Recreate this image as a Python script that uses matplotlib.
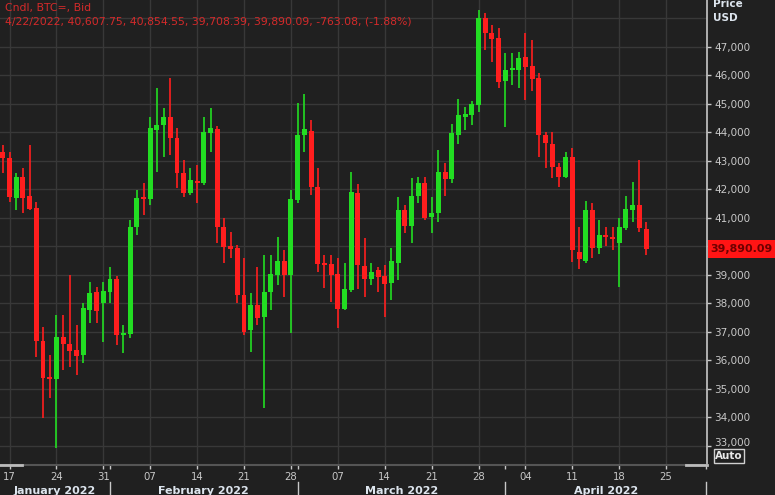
import matplotlib
matplotlib.use("Agg")
import matplotlib.pyplot as plt
import matplotlib.dates as mdates
import matplotlib.transforms as mtrans
from matplotlib.patches import Rectangle
import pandas as pd
import numpy as np

# ---------------- data ----------------
dates = pd.date_range("2022-01-16", "2022-04-22", freq="D")

opens = [43305, 43095, 41691, 42428, 41761, 41340, 36673, 35400, 35330, 36814,
         36568, 36357, 36182, 37761, 38393, 38007, 38393, 38849, 36884, 36919,
         40674, 41726, 41656, 44077, 44253, 44533, 43797, 42568, 41867, 42288,
         42218, 43972, 44112, 40674, 40007, 39937, 38287, 37059, 37937, 37516,
         38393, 38989, 39481, 38989, 41621, 43902, 44042, 42077, 39410, 39375,
         39024, 37796, 38463, 41867, 39305, 38849, 39165, 38954, 38709, 39410,
         41270, 40709, 41761, 42218, 41025, 41165, 42604, 42358, 43902, 44533,
         44604, 44955, 48007, 47481, 47305, 45797, 46183, 46183, 46639, 46323,
         45902, 43902, 43586, 42779, 42428, 43130, 39797, 39481, 41270, 39937,
         40393, 40323, 40112, 40639, 41270, 41446, 40607.75]

highs = [43551, 43305, 42568, 42744, 43551, 41551, 37165, 36182, 37586, 37586,
         38989, 37235, 38007, 38744, 38568, 38744, 39270, 38954, 37235, 40919,
         41972, 42218, 44533, 45551, 44849, 45902, 44147, 43025, 42744, 42849,
         44533, 44849, 44218, 40989, 40498, 40042, 39586, 38358, 39270, 39691,
         39691, 40323, 39867, 41972, 45025, 45341, 44428, 42744, 39691, 39691,
         39586, 39411, 42604, 42183, 40288, 39411, 39270, 39340, 39937, 41726,
         41446, 42393, 42428, 42428, 41726, 43375, 42919, 44288, 45165, 44884,
         45095, 48288, 48183, 47762, 47656, 46779, 46779, 46814, 47481, 47235,
         46077, 44007, 44007, 42919, 43305, 43446, 40674, 41586, 41516, 40919,
         40674, 40674, 40989, 41761, 42253, 43025, 40854.55]

lows = [42568, 41551, 41270, 41165, 41270, 36112, 33971, 34673, 32919, 35656,
        35761, 35480, 35901, 37305, 37305, 36638, 38007, 36533, 36252, 36779,
        40393, 41095, 41446, 42604, 43130, 43200, 42042, 41726, 41796, 41516,
        42147, 43305, 40112, 39410, 39586, 38007, 36884, 36287, 37235, 34322,
        37761, 38639, 38217, 36954, 41500, 43305, 41797, 39095, 38533, 38042,
        37130, 37761, 38393, 38498, 38217, 38639, 38393, 37516, 38112, 38814,
        40463, 40112, 41516, 40919, 40463, 40849, 41761, 42218, 43586, 44077,
        44253, 44709, 46884, 46463, 45551, 44183, 45656, 45551, 45130, 45446,
        43130, 42744, 42393, 42077, 42393, 39446, 39200, 39411, 39586, 39726,
        40007, 39867, 38568, 40568, 40849, 40498, 39708.39]

closes = [43095, 41726, 42428, 41691, 41305, 36673, 35375, 35330, 36814, 36568,
          36322, 36147, 37831, 38358, 37726, 38428, 38849, 36884, 36954, 40674,
          41691, 41656, 44147, 44253, 44533, 43797, 42568, 41867, 42323, 42218,
          44007, 44147, 40674, 39972, 39902, 38287, 36989, 37937, 37480, 38393,
          39024, 39481, 38989, 41656, 43902, 44112, 42077, 39375, 39340, 38989,
          37796, 38498, 41902, 39340, 38849, 39095, 38919, 38674, 39481, 41270,
          40709, 41761, 42218, 40989, 41165, 42604, 42358, 43972, 44604, 44639,
          44990, 48007, 47481, 47270, 45762, 46183, 46218, 46604, 46288, 45867,
          43902, 43621, 42779, 42428, 43130, 39867, 39551, 41270, 39937, 40393,
          40323, 40253, 40674, 41305, 41446, 40653.17, 39890.09]

ytick_values = list(range(33000, 48000, 1000))
grid_values = list(range(33000, 49000, 1000))
month_labels = ["January 2022", "February 2022", "March 2022", "April 2022"]
month_starts = ["2022-02-01", "2022-03-01", "2022-04-01"]
title_line1 = "Cndl, BTC=, Bid"
title_line2 = "4/22/2022, 40,607.75, 40,854.55, 39,708.39, 39,890.09, -763.08, (-1.88%)"
last_price_label = "39,890.09"

# ---------------- style ----------------
BG = "#202020"
GRID = "#383838"
GREEN = "#22dd22"
RED = "#ff1e1e"
TXT = "#c8c8c8"

W, H = 775, 495
fig = plt.figure(figsize=(W / 100, H / 100), dpi=100, facecolor=BG)
ax = fig.add_axes([0, 30 / H, 707 / W, 465 / H], facecolor=BG)

x = mdates.date2num(dates)
o = np.array(opens, float)
h = np.array(highs, float)
l = np.array(lows, float)
c = np.array(closes, float)
up = c >= o
cols = np.where(up, GREEN, RED)

ax.vlines(x, l, h, colors=cols, linewidth=1.2, zorder=3)
bottoms = np.minimum(o, c)
heights = np.maximum(np.abs(c - o), 55)
ax.bar(x, heights, bottom=bottoms, width=0.74, color=cols, linewidth=0, zorder=4)

x0 = mdates.date2num(pd.Timestamp("2022-01-16"))
ax.set_xlim(x0 - 0.42, x0 + 105.1)
ax.set_ylim(32323, 48639)

# grid
for gv in grid_values:
    ax.axhline(gv, color=GRID, lw=1, zorder=1)
ax.xaxis.set_major_locator(mdates.WeekdayLocator(byweekday=mdates.MO))
ax.xaxis.set_major_formatter(mdates.DateFormatter("%d"))
ax.xaxis.set_minor_locator(mdates.MonthLocator(bymonthday=1))
ax.grid(axis="x", which="major", color=GRID, lw=1, zorder=1)

# spines
for s in ["top", "left"]:
    ax.spines[s].set_visible(False)
ax.spines["right"].set_color("#c8c8c8")
ax.spines["right"].set_linewidth(1.2)
ax.spines["bottom"].set_color("#555555")
ax.spines["bottom"].set_linewidth(1.5)
ax.plot([0, 22 / 707], [0, 0], transform=ax.transAxes, color="#bbbbbb", lw=2, clip_on=False, zorder=6)
ax.plot([686 / 707, 1], [0, 0], transform=ax.transAxes, color="#bbbbbb", lw=2, clip_on=False, zorder=6)

# ticks
last = closes[-1]
ax.yaxis.tick_right()
ax.set_yticks(ytick_values)
ax.set_yticklabels(["" if abs(v - last) < 500 else f"{v:,}" for v in ytick_values])
ax.tick_params(axis="y", colors=TXT, labelsize=7.5, length=3, width=1, pad=2, direction="out")
ax.tick_params(axis="x", which="major", colors=TXT, labelsize=7.3, length=3, width=1, pad=2)
ax.tick_params(axis="x", which="minor", colors=TXT, length=3, width=1, labelbottom=False)
# lowest label sits a little higher (above the Auto button)
lowest = ax.get_yticklabels()[0]
lowest.set_transform(lowest.get_transform() + mtrans.ScaledTranslation(0, 4 / 100, fig.dpi_scale_trans))

# month separators and labels
xt = ax.get_xaxis_transform()
ms = [mdates.date2num(pd.Timestamp(d)) for d in month_starts]
bounds = [ax.get_xlim()[0]] + ms + [ax.get_xlim()[1]]
for b in ms + [ax.get_xlim()[1] - 0.15]:
    ax.plot([b, b], [-(482 - 465) / 465, -(497 - 465) / 465], transform=xt,
            color="#c8c8c8", lw=1, clip_on=False)
for i, lab in enumerate(month_labels):
    cx = (bounds[i] + bounds[i + 1]) / 2
    ax.text(cx, -(491 - 465) / 465, lab, transform=xt, ha="center", va="center",
            fontsize=8, fontweight="bold", color="#dde5ee", clip_on=False)

# title texts
fig.text(5 / W, 1 - 8 / H, title_line1, color="#d42a2a", fontsize=7.8, va="center", ha="left")
fig.text(5 / W, 1 - 21 / H, title_line2, color="#d42a2a", fontsize=7.8, va="center", ha="left")

# axis unit labels
fig.text(713 / W, 1 - 4 / H, "Price", color="#dde5ee", fontsize=7.5, fontweight="bold", va="center")
fig.text(713 / W, 1 - 18 / H, "USD", color="#dde5ee", fontsize=7.5, fontweight="bold", va="center")

# last price tag
bt = mtrans.blended_transform_factory(fig.transFigure, ax.transData)
fig.add_artist(Rectangle((708 / W, last - 320), 1 - 708 / W, 640, transform=bt,
                         facecolor="#ff1414", edgecolor="none", zorder=5))
fig.add_artist(matplotlib.text.Text(710 / W, last, last_price_label, transform=bt,
                                    color="#6e0000", fontsize=7.9, fontweight="bold",
                                    va="center", ha="left", zorder=6))

# Auto button
fig.text(729 / W, 1 - 456 / H, "Auto", color="#e8e8e8", fontsize=7.5, fontweight="bold",
         ha="center", va="center",
         bbox=dict(boxstyle="square,pad=0.15", fc=BG, ec="#d0d0d0", lw=1))

fig.savefig("out.png", dpi=100, facecolor=BG)
